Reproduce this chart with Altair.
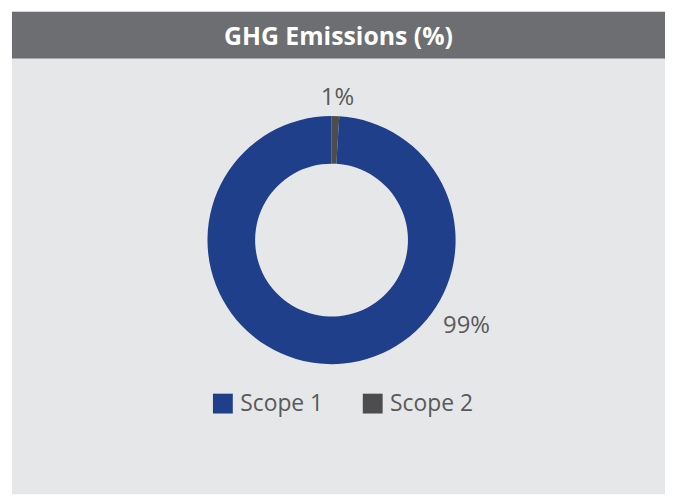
import altair as alt
import pandas as pd

# Data
categories = ["Scope 2", "Scope 1"]
values = [1, 99]
labels = ["1%", "99%"]
slice_order = [0, 1]
legend_domain = ["Scope 1", "Scope 2"]
legend_colors = ["#1f3f8b", "#4d4d4f"]
title_text = "GHG Emissions (%)"

df = pd.DataFrame({"category": categories, "value": values,
                   "label": labels, "order": slice_order})
dummy = pd.DataFrame({"a": [0]})

W, H = 662, 488
FONT = "Open Sans"
TXT = "#58595b"

panel = alt.Chart(dummy).mark_rect(color="#e6e7e8").encode(
    x=alt.value(4), x2=alt.value(W), y=alt.value(2), y2=alt.value(H))
header = alt.Chart(dummy).mark_rect(color="#6d6e71").encode(
    x=alt.value(4), x2=alt.value(W), y=alt.value(2), y2=alt.value(49))
title = alt.Chart(dummy).mark_text(
    text=title_text, font=FONT, fontWeight="bold", fontSize=25,
    color="white", align="center", baseline="alphabetic").encode(
    x=alt.value(333), y=alt.value(35))

donut = alt.Chart(df).mark_arc(innerRadius=77, outerRadius=125).encode(
    theta=alt.Theta("value:Q", stack=True),
    color=alt.Color("category:N",
                    scale=alt.Scale(domain=legend_domain, range=legend_colors),
                    legend=alt.Legend(orient="none", legendX=205, legendY=385,
                                      direction="horizontal", title=None,
                                      symbolType="square", symbolSize=400,
                                      symbolStrokeWidth=0, labelFont=FONT,
                                      labelFontSize=23, labelColor=TXT,
                                      labelOffset=6, columnPadding=38,
                                      padding=0)),
    order=alt.Order("order:Q"),
    x=alt.value(326), y=alt.value(232),
)

lab1 = alt.Chart(df).transform_filter(alt.datum.category == "Scope 2").mark_text(
    font=FONT, fontSize=24, color=TXT, align="center", baseline="alphabetic").encode(
    text="label:N", x=alt.value(332), y=alt.value(96))
lab2 = alt.Chart(df).transform_filter(alt.datum.category == "Scope 1").mark_text(
    font=FONT, fontSize=24, color=TXT, align="center", baseline="alphabetic").encode(
    text="label:N", x=alt.value(462), y=alt.value(326))

chart = alt.layer(panel, header, title, donut, lab1, lab2).properties(
    width=W, height=H,
    autosize=alt.AutoSizeParams(type="fit", contains="padding"),
    padding=0, background="white",
).configure_view(stroke=None)

chart.save("out.html", embed_options={"renderer": "svg", "actions": False})
